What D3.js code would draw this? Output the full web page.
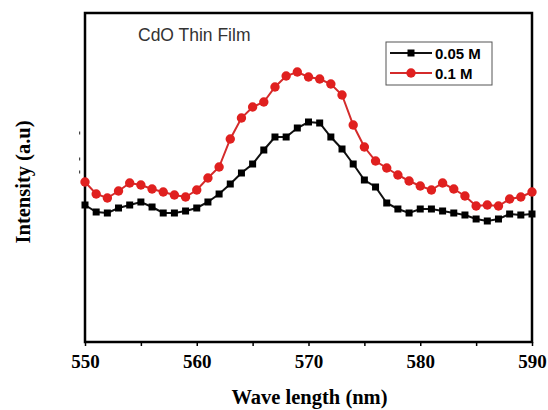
<!DOCTYPE html>
<html lang="en">
<head>
  <meta charset="UTF-8">
  <title>CdO Thin Film</title>
  <script src="https://d3js.org/d3.v7.min.js"></script>
  <style>
    body { margin: 0; background: #fff; }
    .tick-label { font-family: 'Liberation Serif', serif; font-weight: bold; font-size: 19px; }
    .axis-title { font-family: 'Liberation Serif', serif; font-weight: bold; font-size: 20.5px; }
    .legend-text { font-family: 'Liberation Sans', Arial, sans-serif; font-weight: bold; font-size: 15px; }
  </style>
</head>
<body>
  <svg id="chart" width="548" height="410"></svg>
  <script>
    // wavelength (nm), one point per nm
    const wavelengths = d3.range(550, 591);
    const xTicks = [550, 560, 570, 580, 590];

    // intensity (a.u.)
    const series005 = [137, 130, 129, 134, 137, 140, 135, 129, 129, 131,
                       134, 140, 148, 158, 169, 178, 192, 205, 205, 214,
                       220, 219, 205, 193, 178, 162, 155, 139, 133, 129,
                       133, 133, 131, 129, 127, 123, 121, 123, 128, 127, 128];
    const series01 = [160, 148, 144, 151, 159, 157, 153, 150, 147, 145,
                      152, 164, 175, 203, 224, 235, 240, 255, 266, 270,
                      265, 263, 258, 247, 217, 195, 181, 174, 167, 161,
                      156, 152, 159, 153, 146, 136, 137, 136, 143, 145, 150];
    const seriesNames = ["0.05 M", "0.1 M"];
    // faint leftover y tick stubs left of the frame
    const yStubs = [209, 183, 170];

    const margin = { top: 13, right: 16, bottom: 68, left: 85 };
    const W = 548, H = 410;
    const width = W - margin.left - margin.right;
    const height = H - margin.top - margin.bottom;

    const svg = d3.select("#chart");
    const g = svg.append("g").attr("transform", `translate(${margin.left},${margin.top})`);

    const x = d3.scaleLinear().domain([550, 590]).range([0, width]);
    const y = d3.scaleLinear().domain([0, 329]).range([height, 0]);

    // bottom axis with minor ticks
    const xAxis = g.append("g")
      .attr("transform", `translate(0,${height})`)
      .call(d3.axisBottom(x).tickValues(d3.range(550, 591, 5)).tickSize(4).tickFormat(d => xTicks.includes(d) ? d : ""));
    xAxis.select(".domain").remove();
    xAxis.selectAll("line").attr("stroke", "#000").attr("stroke-width", 1.5);
    xAxis.selectAll("text").attr("class", "tick-label").attr("fill", "#000").attr("dy", "1.0em");

    // y stubs
    g.selectAll(".stub").data(yStubs).enter().append("rect")
      .attr("class", "stub")
      .attr("x", -6).attr("y", d => y(d) - 1.5)
      .attr("width", 1.2).attr("height", 3)
      .attr("fill", "#444");

    // frame
    g.append("rect")
      .attr("x", 0).attr("y", 0).attr("width", width).attr("height", height)
      .attr("fill", "none").attr("stroke", "#000").attr("stroke-width", 2.5);

    const line = d3.line().x((d, i) => x(wavelengths[i])).y(d => y(d));

    // 0.05 M
    g.append("path").datum(series005)
      .attr("fill", "none").attr("stroke", "#111").attr("stroke-width", 2)
      .attr("d", line);
    g.selectAll(".sq").data(series005).enter().append("rect")
      .attr("class", "sq")
      .attr("x", (d, i) => x(wavelengths[i]) - 3.5)
      .attr("y", d => y(d) - 3.5)
      .attr("width", 7).attr("height", 7)
      .attr("fill", "#000");

    // 0.1 M
    g.append("path").datum(series01)
      .attr("fill", "none").attr("stroke", "#d42b2b").attr("stroke-width", 2)
      .attr("d", line);
    g.selectAll(".dot").data(series01).enter().append("circle")
      .attr("class", "dot")
      .attr("cx", (d, i) => x(wavelengths[i]))
      .attr("cy", d => y(d))
      .attr("r", 4.7)
      .attr("fill", "#e0201f");

    // title inside plot
    g.append("text")
      .attr("x", 53).attr("y", 28)
      .attr("font-family", "'Liberation Sans', Arial, sans-serif")
      .attr("font-size", 17.5).attr("fill", "#333")
      .text("CdO Thin Film");

    // legend
    const lg = g.append("g").attr("transform", "translate(301,29)");
    lg.append("rect").attr("width", 106).attr("height", 43)
      .attr("fill", "#fff").attr("stroke", "#555").attr("stroke-width", 1);
    const legendRows = [
      { name: seriesNames[0], color: "#111", shape: "square" },
      { name: seriesNames[1], color: "#d42b2b", shape: "circle" }
    ];
    legendRows.forEach((r, i) => {
      const cy = 11 + i * 20;
      lg.append("line").attr("x1", 4).attr("x2", 46).attr("y1", cy).attr("y2", cy)
        .attr("stroke", r.color).attr("stroke-width", 2);
      if (r.shape === "square") {
        lg.append("rect").attr("x", 21.5).attr("y", cy - 3.5).attr("width", 7).attr("height", 7).attr("fill", "#000");
      } else {
        lg.append("circle").attr("cx", 25).attr("cy", cy).attr("r", 4.7).attr("fill", "#e0201f");
      }
      lg.append("text").attr("class", "legend-text")
        .attr("x", 49).attr("y", cy + 5.5).attr("fill", "#000")
        .text(r.name);
    });

    // axis titles
    svg.append("text").attr("class", "axis-title")
      .attr("x", margin.left + width / 2 + 1).attr("y", 404)
      .attr("text-anchor", "middle").text("Wave length (nm)");
    svg.append("text").attr("class", "axis-title")
      .attr("transform", `translate(30,182) rotate(-90)`)
      .attr("text-anchor", "middle").text("Intensity (a.u)");
  </script>
</body>
</html>
